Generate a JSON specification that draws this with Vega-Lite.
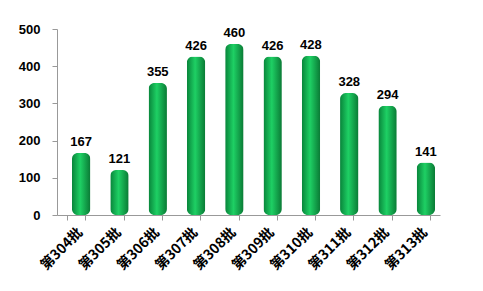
{
  "$schema": "https://vega.github.io/schema/vega-lite/v6.json",
  "width": 383,
  "height": 186,
  "autosize": {"type": "none"},
  "padding": {"left": 57, "top": 29, "right": 43, "bottom": 76},
  "background": "white",
  "config": {"view": {"stroke": null}, "font": "Noto Sans CJK SC"},
  "data": {"values": [
    {"batch": "第304批", "value": 167},
    {"batch": "第305批", "value": 121},
    {"batch": "第306批", "value": 355},
    {"batch": "第307批", "value": 426},
    {"batch": "第308批", "value": 460},
    {"batch": "第309批", "value": 426},
    {"batch": "第310批", "value": 428},
    {"batch": "第311批", "value": 328},
    {"batch": "第312批", "value": 294},
    {"batch": "第313批", "value": 141}
  ]},
  "encoding": {
    "x": {"field": "batch", "type": "nominal", "sort": null,
      "scale": {"paddingInner": 0.52, "paddingOuter": 0.26},
      "axis": {"title": null, "labelAngle": -45, "labelAlign": "right", "labelBaseline": "middle",
        "labelFont": "Noto Sans CJK SC", "labelFontWeight": "bold", "labelFontSize": 14, "labelColor": "#000",
        "domainColor": "#999", "tickColor": "#999", "tickSize": 5, "tickBand": "extent", "labelPadding": 10, "labelOffset": 4}},
    "y": {"field": "value", "type": "quantitative",
      "scale": {"domain": [0, 500]},
      "axis": {"title": null, "values": [0, 100, 200, 300, 400, 500], "grid": false,
        "labelFont": "Liberation Sans", "labelFontWeight": "bold", "labelFontSize": 13, "labelColor": "#000",
        "domainColor": "#999", "tickColor": "#999", "tickSize": 5, "labelPadding": 12}}
  },
  "layer": [
    {"mark": {"type": "bar", "cornerRadius": 6,
      "color": {"gradient": "linear", "x1": 0, "y1": 0, "x2": 1, "y2": 0,
        "stops": [{"offset": 0, "color": "#08843a"}, {"offset": 0.45, "color": "#1ed064"}, {"offset": 1, "color": "#0a7a35"}]}},
      "encoding": {"xOffset": {"value": 5}}},
    {"mark": {"type": "text", "dy": -11, "dx": 5, "font": "Liberation Sans", "fontWeight": "bold", "fontSize": 13, "color": "#000"},
      "encoding": {"text": {"field": "value", "type": "quantitative"}}}
  ]
}
